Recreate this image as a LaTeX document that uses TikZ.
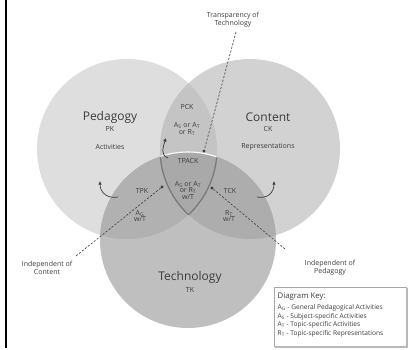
\documentclass[tikz,border=0pt]{standalone}
\usepackage{fontspec}
\setmainfont{Open Sans}
\usetikzlibrary{arrows.meta}
\definecolor{cP}{HTML}{DEDEDE}
\definecolor{cC}{HTML}{D2D2D2}
\definecolor{cT}{HTML}{BFBFBF}
\definecolor{cPC}{HTML}{C4C4C4}
\definecolor{cPT}{HTML}{B1B1B1}
\definecolor{cCT}{HTML}{ADADAD}
\definecolor{cPCT}{HTML}{A9A9A9}
\definecolor{txt}{HTML}{3C3C3C}
\definecolor{edge}{HTML}{7A7A7A}
\begin{document}
\begin{tikzpicture}[x=1pt,y=-1pt,
  lbl/.style={text=txt,inner sep=0.5pt,align=center},
  big/.style={lbl,font=\fontsize{12}{13}\selectfont},
  small/.style={lbl,font=\fontsize{7}{8}\selectfont},
  tiny/.style={lbl,font=\fontsize{6.6}{8.5}\selectfont},
  dotmark/.style={circle,fill=txt,inner sep=0pt,minimum size=3.4pt},
  leader/.style={txt,line width=0.6pt,dash pattern=on 2.2pt off 1.6pt},
  hook/.style={txt,line width=0.7pt,-{Latex[length=3.6pt,width=3.6pt]}}]
\useasboundingbox (0,0) rectangle (413,350);
% left rule
\coordinate (r1) at (6,0);
\coordinate (r2) at (6,348);
\draw[black,line width=1.2pt] (r1) -- (r2);
% circles
\coordinate (P) at (127,149);
\coordinate (C) at (250,149);
\coordinate (T) at (188,240);
\fill[cP] (P) circle[radius=90pt];
\fill[cC] (C) circle[radius=90pt];
\fill[cT] (T) circle[radius=88pt];
\begin{scope}\clip (P) circle[radius=90pt]; \fill[cPC] (C) circle[radius=90pt];\end{scope}
\begin{scope}\clip (P) circle[radius=90pt]; \fill[cPT] (T) circle[radius=88pt];\end{scope}
\begin{scope}\clip (C) circle[radius=90pt]; \fill[cCT] (T) circle[radius=88pt];\end{scope}
\begin{scope}\clip (P) circle[radius=90pt]; \clip (C) circle[radius=90pt]; \fill[cPCT] (T) circle[radius=88pt];\end{scope}
% TPACK outline
\begin{scope}\clip (T) circle[radius=88pt]; \clip (P) circle[radius=90pt];
  \draw[edge,line width=1.3pt] (C) circle[radius=90pt];\end{scope}
\begin{scope}\clip (T) circle[radius=88pt]; \clip (C) circle[radius=90pt];
  \draw[edge,line width=1.3pt] (P) circle[radius=90pt];\end{scope}
\begin{scope}\clip (P) circle[radius=90pt]; \clip (C) circle[radius=90pt];
  \draw[white,line width=1.1pt] (T) circle[radius=88pt];\end{scope}
% main labels
\node[big] (ped) at (110,117) {Pedagogy};
\node[small] (pk) at (110,129) {PK};
\node[small] (act) at (110,147) {Activities};
\node[big] (con) at (268,117) {Content};
\node[small] (ck) at (268,129) {CK};
\node[small] (rep) at (268,147) {Representations};
\node[big] (tec) at (190,277) {Technology};
\node[small] (tk) at (190,290) {TK};
% region labels
\node[small] (pck) at (187,107) {PCK};
\node[small] (pcka) at (187,129) {A\textsubscript{S} or A\textsubscript{T}\\[-1.5pt]or R\textsubscript{T}};
\node[small] (tpack) at (188,161) {TPACK};
\node[small] (tpacka) at (188,190) {A\textsubscript{S} or A\textsubscript{T}\\[-1.5pt]or R\textsubscript{T}\\[-1.5pt]w/T};
\node[small] (tpk) at (142,191) {TPK};
\node[small] (tpka) at (140,216) {A\textsubscript{G}\\[-1.5pt]w/T};
\node[small] (tck) at (230,191) {TCK};
\node[small] (tcka) at (229,216) {R\textsubscript{T}\\[-1.5pt]w/T};
% outside labels
\node[small] (trans) at (233,20) {Transparency of\\Technology};
\node[small] (indc) at (47,268) {Independent of\\Content};
\node[small] (indp) at (330,268) {Independent of\\Pedagogy};
% dots and leaders
\node[dotmark] (dT) at (204,151) {};
\node[dotmark] (dP) at (162,187) {};
\node[dotmark] (dC) at (212,188) {};
\coordinate (sT) at (236,32);
\coordinate (sP) at (76,256);
\coordinate (sC) at (285,249);
\draw[leader] (sT) -- (dT);
\draw[leader] (sP) -- (dP);
\draw[leader] (sC) -- (dC);
% curved arrows
\coordinate (h1a) at (118,197); \coordinate (h1b) at (100,181);
\coordinate (h2a) at (257,197); \coordinate (h2b) at (274,181);
\coordinate (h3a) at (168,158); \coordinate (h3b) at (166,138);
\draw[hook] (h1a) .. controls (108,199) and (100,193) .. (h1b);
\draw[hook] (h2a) .. controls (267,199) and (274,193) .. (h2b);
\draw[hook] (h3a) .. controls (160,155) and (163,147) .. (h3b);
% key
\coordinate (k1) at (274,287);
\coordinate (k2) at (406,346);
\fill[white] (k1) rectangle (k2);
\draw[gray!70,line width=0.7pt] (k1) rectangle (k2);
\draw[gray!55,line width=1.4pt] (407,288) -- (407,347) -- (275,347);
\node[lbl,font=\fontsize{7.8}{8}\selectfont,anchor=west] (kt) at (277,297) {Diagram Key:};
\node[tiny,anchor=north west,align=left] (kl) at (277,304)
 {A\textsubscript{G} - General Pedagogical Activities\\
  A\textsubscript{S} - Subject-specific Activities\\
  A\textsubscript{T} - Topic-specific Activities\\
  R\textsubscript{T} - Topic-specific Representations};
\end{tikzpicture}
\end{document}
